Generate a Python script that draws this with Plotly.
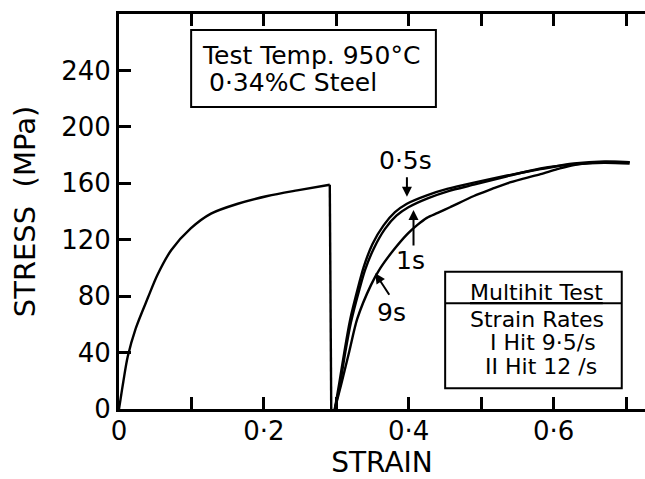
import plotly.graph_objects as go

# Single-hit flow curve, then unloading at the end of the first pass
strain_hit1 = [0, 0.002, 0.006, 0.012, 0.023, 0.040, 0.053, 0.072, 0.099, 0.127, 0.164, 0.205, 0.246, 0.291, 0.293]
stress_hit1 = [0, 6.5, 19.5, 37, 57, 79, 95, 112.5, 128, 138.5, 145.5, 151, 155, 159, 0]

# Reloading curves after the interpass delays
strain_05s = [0.298, 0.304, 0.311, 0.319, 0.331, 0.338, 0.350, 0.365, 0.381, 0.3975, 0.425, 0.453, 0.490, 0.536, 0.582, 0.628, 0.670, 0.705]
stress_05s = [0, 18, 40, 63, 88, 101, 117, 130, 139.5, 145.5, 151.5, 156, 160.5, 165.5, 170, 174, 175.5, 175]

strain_1s = [0.298, 0.305, 0.312, 0.320, 0.332, 0.340, 0.352, 0.367, 0.383, 0.3995, 0.427, 0.455, 0.490, 0.536, 0.582, 0.628, 0.670, 0.705]
stress_1s = [0, 17, 39, 61, 85, 99, 114, 127.5, 137, 143, 149.5, 154.5, 159, 165, 170.5, 173.5, 174.5, 174]

strain_9s = [0.298, 0.307, 0.318, 0.329, 0.348, 0.361, 0.378, 0.398, 0.412, 0.425, 0.440, 0.457, 0.490, 0.515, 0.536, 0.560, 0.582, 0.605, 0.628, 0.670, 0.705]
stress_9s = [0, 18, 41, 64, 88, 100, 112, 124, 130.5, 135.5, 139, 143, 151, 156, 160, 163.5, 166.5, 170, 173, 175, 175]

x_tick_vals = [0, 0.1, 0.2, 0.3, 0.4, 0.5, 0.6, 0.7]
x_tick_text = ["0", "", "0·2", "", "0·4", "", "0·6", ""]
y_tick_vals = [0, 40, 80, 120, 160, 200, 240]
y_tick_text = ["0", "40", "80", "120", "160", "200", "240"]

FONT = "DejaVu Sans"
INK = "black"
Y_RANGE = [0, 280]
X_RANGE = [0, 0.7262]


def curve(xs, ys, shape="spline"):
    return go.Scatter(x=xs, y=ys, mode="lines",
                      line=dict(color=INK, width=2.4, shape=shape, smoothing=0.8),
                      showlegend=False, hoverinfo="skip")


fig = go.Figure()
# loading part of the first hit (smooth) and the vertical unloading (straight)
fig.add_trace(curve(strain_hit1[:-1], stress_hit1[:-1]))
fig.add_trace(curve(strain_hit1[-2:], stress_hit1[-2:], shape="linear"))
fig.add_trace(curve(strain_05s, stress_05s))
fig.add_trace(curve(strain_1s, stress_1s))
fig.add_trace(curve(strain_9s, stress_9s))

annotations = []

# Header box text
annotations += [
    dict(x=0.1124, y=250.9, text="Test Temp. 950°C", xanchor="left", yanchor="middle",
         showarrow=False, font=dict(family=FONT, size=25, color=INK)),
    dict(x=0.1221, y=231.1, text="0·34%C Steel", xanchor="left", yanchor="middle",
         showarrow=False, font=dict(family=FONT, size=25, color=INK)),
]

# Multihit test box text
box_font = dict(family=FONT, size=22, color=INK)
annotations += [
    dict(x=0.4821, y=82.4, text="<u>Multihit Test</u>", xanchor="left", yanchor="middle",
         showarrow=False, font=box_font),
    dict(x=0.4821, y=63.1, text="Strain Rates", xanchor="left", yanchor="middle",
         showarrow=False, font=box_font),
    dict(x=0.5097, y=46.8, text="I Hit 9·5/s", xanchor="left", yanchor="middle",
         showarrow=False, font=box_font),
    dict(x=0.5028, y=30.0, text="II Hit 12 /s", xanchor="left", yanchor="middle",
         showarrow=False, font=box_font),
]

# Curve labels with arrows
lab_font = dict(family=FONT, size=25, color=INK)
arrow_style = dict(text="", showarrow=True, arrowhead=2, arrowsize=1.0,
                   arrowwidth=2, arrowcolor=INK)
annotations += [
    dict(x=0.3952, y=176.5, text="0·5s", showarrow=False, font=lab_font),
    dict(x=0.3975, y=150.5, ax=0, ay=-21, **arrow_style),
    dict(x=0.4021, y=105.6, text="1s", showarrow=False, font=lab_font),
    dict(x=0.4066, y=141.0, ax=0, ay=37, **arrow_style),
    dict(x=0.3766, y=68.1, text="9s", showarrow=False, font=lab_font),
    dict(x=0.3538, y=96.2, ax=15, ay=23, **arrow_style),
]

shapes = [
    dict(type="rect", x0=0.0996, x1=0.4375, y0=214.1, y1=268.7,
         line=dict(color=INK, width=2)),
    dict(type="rect", x0=0.4503, x1=0.6941, y0=14.7, y1=97.3,
         line=dict(color=INK, width=2)),
    dict(type="line", x0=0.4503, x1=0.6941, y0=74.9, y1=74.9,
         line=dict(color=INK, width=2)),
]

tick_style = dict(ticks="inside", ticklen=12, tickwidth=2.5, tickcolor=INK,
                  showgrid=False, zeroline=False,
                  tickfont=dict(family=FONT, size=26, color=INK))

fig.update_layout(
    width=645, height=479,
    margin=dict(l=119, r=0, t=14, b=70),
    paper_bgcolor="white", plot_bgcolor="white",
    xaxis=dict(range=X_RANGE, tickmode="array", tickvals=x_tick_vals,
               ticktext=x_tick_text, ticklabelstandoff=-3,
               showline=True, linecolor=INK, linewidth=3, mirror="ticks",
               title=dict(text="STRAIN", standoff=6,
                          font=dict(family=FONT, size=28, color=INK)),
               **tick_style),
    yaxis=dict(range=Y_RANGE, tickmode="array", tickvals=y_tick_vals,
               ticktext=y_tick_text,
               showline=True, linecolor=INK, linewidth=3, mirror=False,
               title=dict(text="STRESS\u00a0\u00a0(MPa)", standoff=18,
                          font=dict(family=FONT, size=29, color=INK)),
               **tick_style),
    # right-hand tick marks without a frame line
    yaxis2=dict(range=Y_RANGE, overlaying="y", side="right", anchor="x",
                tickmode="array", tickvals=y_tick_vals, showticklabels=False,
                showline=False, **tick_style),
    annotations=annotations,
    shapes=shapes,
)

fig.write_html("out.html")
